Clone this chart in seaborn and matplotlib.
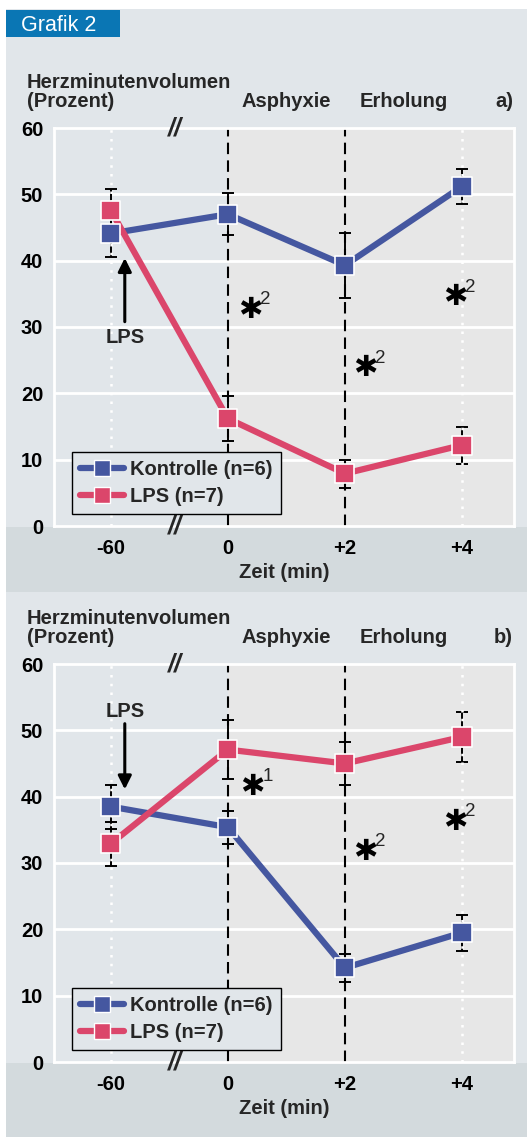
import numpy as np
import pandas as pd
import matplotlib
matplotlib.use('Agg')
import matplotlib.pyplot as plt
import seaborn as sns
from matplotlib.patches import Rectangle
from matplotlib.lines import Line2D
from matplotlib import font_manager

# ---------------- data ----------------
categories = ['-60', '0', '+2', '+4']
a_kontrolle = [44.1, 47.0, 39.3, 51.2]
a_kontrolle_err = [3.6, 3.2, 4.9, 2.6]
a_lps = [47.6, 16.2, 7.9, 12.2]
a_lps_err = [3.2, 3.4, 2.1, 2.8]
b_kontrolle = [38.5, 35.4, 14.2, 19.5]
b_kontrolle_err = [3.3, 2.5, 2.1, 2.7]
b_lps = [32.9, 47.1, 45.0, 49.0]
b_lps_err = [3.3, 4.5, 3.2, 3.7]
yticks = [0, 10, 20, 30, 40, 50, 60]
series_names = ['Kontrolle (n=6)', 'LPS (n=7)']
phase_labels = ['Asphyxie', 'Erholung']
a_stars = [(1.19, 32.6, '2'), (2.17, 23.8, '2'), (2.94, 34.5, '2')]
b_stars = [(1.21, 41.5, '1'), (2.17, 31.7, '2'), (2.94, 36.2, '2')]

# ---------------- style ----------------
sns.set_theme(style='white')
names = {f.name for f in font_manager.fontManager.ttflist}
main_font = 'Liberation Sans Narrow' if 'Liberation Sans Narrow' in names else 'Liberation Sans'
plt.rcParams['font.family'] = [main_font, 'DejaVu Sans']

BG = '#e1e6ea'
STRIP = '#d3dadd'
SHADE = '#e7e7e7'
BLUE = '#4557a0'
RED = '#db466b'
W, H = 527, 1137
FS = 14.5

fig = plt.figure(figsize=(W / 100, H / 100), dpi=100)
fig.patch.set_facecolor('white')

def frect(x0, y0, x1, y1, color, z=-10):
    fig.patches.append(Rectangle((x0 / W, 1 - y1 / H), (x1 - x0) / W, (y1 - y0) / H,
                                 transform=fig.transFigure, facecolor=color,
                                 edgecolor='none', zorder=z))

frect(6, 9, W, H, BG)
frect(6, 527, W, 592, STRIP, z=-9)
frect(6, 1063, W, H, STRIP, z=-9)
frect(6, 10, 120, 36.5, '#0a76b4', z=-8)
fig.text(21 / W, 1 - 31 / H, 'Grafik 2', color='white', fontsize=15.5,
         va='baseline', ha='left')


def panel(top_px, kon, kon_err, lps, lps_err, stars, letter, arrow_up):
    bot_px = top_px + 398
    ax = fig.add_axes([54.3 / W, 1 - bot_px / H, (514 - 54.3) / W, 398 / H])
    ax.set_facecolor(BG)
    ax.set_xlim(-0.482, 3.444)
    ax.set_ylim(0, 60)
    for s in ax.spines.values():
        s.set_color('white')
        s.set_linewidth(2)
    ax.axvspan(1, 3.444, color=SHADE, zorder=0, lw=0)
    for yv in yticks[1:-1]:
        ax.axhline(yv, color='white', lw=2, zorder=1)
    for xv in [1, 2]:
        ax.axvline(xv, color='black', lw=1.5, ls=(0, (5.5, 3)), zorder=2)

    pos = np.arange(len(categories))
    df = pd.DataFrame({
        'pos': np.concatenate([pos, pos]),
        'wert': kon + lps,
        'gruppe': [series_names[0]] * 4 + [series_names[1]] * 4,
    })
    ax.errorbar(pos, kon, yerr=kon_err, fmt='none', ecolor='black', elinewidth=1.4,
                capsize=4, capthick=1.4, zorder=3)
    ax.errorbar(pos, lps, yerr=lps_err, fmt='none', ecolor='black', elinewidth=1.4,
                capsize=4, capthick=1.4, zorder=3)
    for xv in [0, 3]:
        ax.axvline(xv, color='white', lw=1.8, ls=(0, (1, 2.5)), zorder=3.5)

    sns.lineplot(data=df, x='pos', y='wert', hue='gruppe',
                 palette={series_names[0]: BLUE, series_names[1]: RED},
                 lw=4.5, ax=ax, legend=False, zorder=4, sort=False)
    sns.scatterplot(data=df.iloc[::-1], x='pos', y='wert', hue='gruppe',
                    palette={series_names[0]: BLUE, series_names[1]: RED},
                    marker='s', s=190, edgecolor='white', linewidth=1.2,
                    ax=ax, legend=False, zorder=5)

    ax.set_xticks(pos)
    ax.set_xticklabels(categories, fontsize=FS, fontweight='bold')
    ax.set_yticks(yticks)
    ax.set_yticklabels([str(v) for v in yticks], fontsize=FS, fontweight='bold')
    ax.tick_params(axis='x', length=0, pad=9, colors='black')
    ax.tick_params(axis='y', length=0, pad=8, colors='black')
    ax.set_xlabel('Zeit (min)', fontsize=FS, fontweight='bold', labelpad=4)
    ax.set_ylabel('')

    # break marks
    for yv in [60, 0]:
        ax.text(0.55, yv, '//', ha='center', va='center', fontsize=18,
                fontweight='bold', style='italic', clip_on=False, zorder=6)

    # stars
    for x, y, sup in stars:
        ax.text(x, y, '✱', family='DejaVu Sans', fontsize=21, fontweight='bold',
                ha='center', va='center', color='black', zorder=6)
        ax.annotate(sup, (x, y), xytext=(7.5, 1), textcoords='offset points',
                    fontsize=13.5, style='normal', family=[main_font],
                    ha='left', va='bottom', zorder=6)

    # LPS arrow
    if arrow_up:
        ax.annotate('', xy=(0.12, 40.4), xytext=(0.12, 30.8),
                    arrowprops=dict(arrowstyle='-|>', color='black', lw=2.2,
                                    mutation_scale=20, shrinkA=0, shrinkB=0), zorder=6)
        ax.text(0.12, 28.4, 'LPS', ha='center', va='center', fontsize=FS,
                fontweight='bold', zorder=6)
    else:
        ax.annotate('', xy=(0.12, 41.1), xytext=(0.12, 51.0),
                    arrowprops=dict(arrowstyle='-|>', color='black', lw=2.2,
                                    mutation_scale=20, shrinkA=0, shrinkB=0), zorder=6)
        ax.text(0.12, 52.8, 'LPS', ha='center', va='center', fontsize=FS,
                fontweight='bold', zorder=6)

    handles = [Line2D([], [], color=BLUE, lw=4.5, marker='s', markersize=12,
                      markeredgecolor='white', markeredgewidth=1),
               Line2D([], [], color=RED, lw=4.5, marker='s', markersize=12,
                      markeredgecolor='white', markeredgewidth=1)]
    leg = ax.legend(handles, series_names, loc='lower left',
                    bbox_to_anchor=(0.038, 0.03), frameon=True, fancybox=False,
                    fontsize=FS, handlelength=2.2, handletextpad=0.3,
                    borderpad=0.4, labelspacing=0.4, borderaxespad=0)
    leg.get_frame().set_edgecolor('black')
    leg.get_frame().set_facecolor(BG)
    leg.get_frame().set_linewidth(1.0)
    leg.get_frame().set_alpha(1)
    for t in leg.get_texts():
        t.set_fontweight('bold')
    leg.set_zorder(7)

    # headers
    off = top_px - 128
    fig.text(27 / W, 1 - (87.5 + off) / H, 'Herzminutenvolumen', fontsize=FS,
             fontweight='bold', va='baseline', ha='left')
    fig.text(27 / W, 1 - (107 + off) / H, '(Prozent)', fontsize=FS,
             fontweight='bold', va='baseline', ha='left')
    fig.text(242 / W, 1 - (107 + off) / H, phase_labels[0], fontsize=FS,
             fontweight='bold', va='baseline', ha='left')
    fig.text(360 / W, 1 - (107 + off) / H, phase_labels[1], fontsize=FS,
             fontweight='bold', va='baseline', ha='left')
    fig.text(513 / W, 1 - (107 + off) / H, letter, fontsize=FS,
             fontweight='bold', va='baseline', ha='right')
    return ax


panel(128, a_kontrolle, a_kontrolle_err, a_lps, a_lps_err, a_stars, 'a)', True)
panel(664, b_kontrolle, b_kontrolle_err, b_lps, b_lps_err, b_stars, 'b)', False)

fig.savefig('out.png', dpi=100, facecolor=fig.get_facecolor())
